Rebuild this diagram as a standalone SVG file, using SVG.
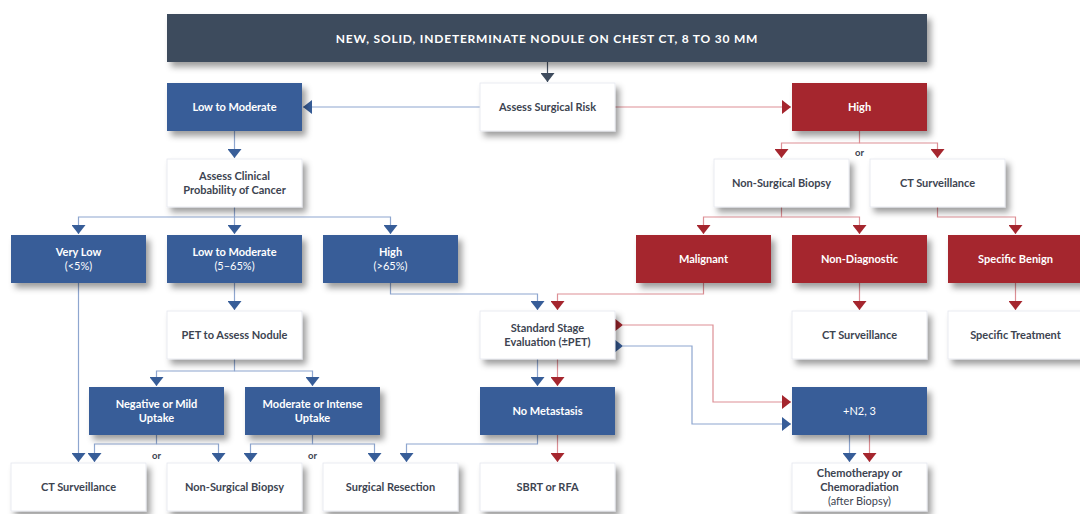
<svg xmlns="http://www.w3.org/2000/svg" width="1080" height="514" viewBox="0 0 1080 514">
<defs>
<filter id="sh" x="-10%" y="-15%" width="130%" height="150%">
<feDropShadow dx="4" dy="5" stdDeviation="3" flood-color="#000" flood-opacity="0.38"/>
</filter>
<marker id="mb" viewBox="0 0 9 14" refX="9" refY="7" markerWidth="9" markerHeight="14" markerUnits="userSpaceOnUse" orient="auto"><path d="M0,0 L9,7 L0,14 z" fill="#375d98"/></marker>
<marker id="mr" viewBox="0 0 9 14" refX="9" refY="7" markerWidth="9" markerHeight="14" markerUnits="userSpaceOnUse" orient="auto"><path d="M0,0 L9,7 L0,14 z" fill="#a5262e"/></marker>
<marker id="md" viewBox="0 0 9 14" refX="9" refY="7" markerWidth="9" markerHeight="14" markerUnits="userSpaceOnUse" orient="auto"><path d="M0,0 L9,7 L0,14 z" fill="#3e4b5d"/></marker>
</defs>
<style>
.bw{fill:#fff;stroke:#e4e7ee;stroke-width:0.8;filter:url(#sh)}
.bb{fill:#375d98;filter:url(#sh)}
.br{fill:#a5262e;filter:url(#sh)}
.bd{fill:#3e4b5d;filter:url(#sh)}
text{font-family:Lato,"Noto Sans","Liberation Sans",sans-serif;font-size:11px;font-weight:700;text-anchor:middle;fill:#3d4451}
.tw{fill:#fff}
.lt{font-weight:400}
.hdr{font-size:12px;letter-spacing:0.8px;fill:#fff}
.or{font-size:9.5px;font-weight:700}
.lb{stroke:#8ea6cf;stroke-width:1.2;fill:none}
.lr{stroke:#dd8f95;stroke-width:1.2;fill:none}
.ld{stroke:#4a5668;stroke-width:1.2;fill:none}
.ab{marker-end:url(#mb)}
.ar{marker-end:url(#mr)}
</style>
<rect width="1080" height="514" fill="#fff"/>

<g id="connectors">
<path class="ld" d="M547.5,62 V82" marker-end="url(#md)"/>
<path class="lb ab" d="M480,107 H303"/>
<path class="lr ar" d="M615,107 H791"/>
<path class="lb ab" d="M234.5,131 V158"/>
<path class="lr ar" d="M859.5,131 V143 H781.5 V158"/>
<path class="lr ar" d="M859.5,143 H937.5 V158"/>
<path class="lb ab" d="M234.5,207 V234"/>
<path class="lb ab" d="M234.5,217 H78.5 V234"/>
<path class="lb ab" d="M234.5,217 H390.5 V234"/>
<path class="lr ar" d="M781.5,207 V217 H703.5 V234"/>
<path class="lr ar" d="M781.5,217 H859.5 V234"/>
<path class="lr ar" d="M937.5,207 V217 H1015.5 V234"/>
<path class="lb ab" d="M234.5,283 V310"/>
<path class="lb ab" d="M78.5,283 V462"/>
<path class="lb ab" d="M390.5,283 V294 H537.5 V310"/>
<path class="lr ar" d="M703.5,283 V294 H557.5 V310"/>
<path class="lr ar" d="M859.5,283 V310"/>
<path class="lr ar" d="M1015.5,283 V310"/>
<path class="lb ab" d="M234.5,359 V371 H156.5 V386"/>
<path class="lb ab" d="M234.5,371 H312.5 V386"/>
<path class="lb ab" d="M537.5,359 V386"/>
<path class="lr ar" d="M557.5,359 V386"/>
<path class="lr ar" d="M623,325 H713 V402 H791" marker-start="url(#mr)"/>
<path class="lb ab" d="M623,346 H692 V424 H791" marker-start="url(#mb)"/>
<path class="lb ab" d="M156.5,435 V444 H94.5 V462"/>
<path class="lb ab" d="M156.5,444 H218.5 V462"/>
<path class="lb ab" d="M312.5,435 V444 H250.5 V462"/>
<path class="lb ab" d="M312.5,444 H374.5 V462"/>
<path class="lb ab" d="M537.5,435 V444 H406.5 V462"/>
<path class="lr ar" d="M557.5,435 V462"/>
<path class="lb ab" d="M849.5,435 V462"/>
<path class="lr ar" d="M869.5,435 V462"/>
<text class="or" x="859.5" y="156">or</text>
<text class="or" x="156.5" y="459">or</text>
<text class="or" x="312.5" y="459">or</text>
</g>

<g id="n-top"><rect class="bd" x="167" y="14" width="760" height="48"/><text class="hdr" x="547" y="42.5">NEW, SOLID, INDETERMINATE NODULE ON CHEST CT, 8 TO 30 MM</text></g>

<g id="n-lowmod"><rect class="bb" x="167" y="83" width="135" height="48"/><text class="tw" x="234.5" y="111">Low to Moderate</text></g>
<g id="n-asr"><rect class="bw" x="480" y="83" width="135" height="48"/><text x="547.5" y="111">Assess Surgical Risk</text></g>
<g id="n-high"><rect class="br" x="792" y="83" width="135" height="48"/><text class="tw" x="859.5" y="111">High</text></g>

<g id="n-clin"><rect class="bw" x="167" y="159" width="135" height="48"/><text x="234.5" y="180">Assess Clinical</text><text x="234.5" y="194">Probability of Cancer</text></g>
<g id="n-nsb1"><rect class="bw" x="714" y="159" width="135" height="48"/><text x="781.5" y="187">Non-Surgical Biopsy</text></g>
<g id="n-cts1"><rect class="bw" x="870" y="159" width="135" height="48"/><text x="937.5" y="187">CT Surveillance</text></g>

<g id="n-verylow"><rect class="bb" x="11" y="235" width="135" height="48"/><text class="tw" x="78.5" y="256">Very Low</text><text class="tw lt" x="78.5" y="270">(&lt;5%)</text></g>
<g id="n-lowmod2"><rect class="bb" x="167" y="235" width="135" height="48"/><text class="tw" x="234.5" y="256">Low to Moderate</text><text class="tw lt" x="234.5" y="270">(5–65%)</text></g>
<g id="n-highp"><rect class="bb" x="323" y="235" width="135" height="48"/><text class="tw" x="390.5" y="256">High</text><text class="tw lt" x="390.5" y="270">(&gt;65%)</text></g>
<g id="n-malig"><rect class="br" x="636" y="235" width="135" height="48"/><text class="tw" x="703.5" y="263">Malignant</text></g>
<g id="n-nondiag"><rect class="br" x="792" y="235" width="135" height="48"/><text class="tw" x="859.5" y="263">Non-Diagnostic</text></g>
<g id="n-specben"><rect class="br" x="948" y="235" width="135" height="48"/><text class="tw" x="1015.5" y="263">Specific Benign</text></g>

<g id="n-pet"><rect class="bw" x="167" y="311" width="135" height="48"/><text x="234.5" y="339">PET to Assess Nodule</text></g>
<g id="n-sse"><rect class="bw" x="480" y="311" width="135" height="48"/><text x="547.5" y="332">Standard Stage</text><text x="547.5" y="346">Evaluation (±PET)</text></g>
<g id="n-cts2"><rect class="bw" x="792" y="311" width="135" height="48"/><text x="859.5" y="339">CT Surveillance</text></g>
<g id="n-spectreat"><rect class="bw" x="948" y="311" width="135" height="48"/><text x="1015.5" y="339">Specific Treatment</text></g>

<g id="n-negmild"><rect class="bb" x="89" y="387" width="135" height="48"/><text class="tw" x="156.5" y="408">Negative or Mild</text><text class="tw" x="156.5" y="422">Uptake</text></g>
<g id="n-modint"><rect class="bb" x="245" y="387" width="135" height="48"/><text class="tw" x="312.5" y="408">Moderate or Intense</text><text class="tw" x="312.5" y="422">Uptake</text></g>
<g id="n-nomet"><rect class="bb" x="480" y="387" width="135" height="48"/><text class="tw" x="547.5" y="415">No Metastasis</text></g>
<g id="n-n23"><rect class="bb" x="792" y="387" width="135" height="48"/><text class="tw lt" x="859.5" y="415">+N2, 3</text></g>

<g id="n-cts3"><rect class="bw" x="11" y="463" width="135" height="48"/><text x="78.5" y="491">CT Surveillance</text></g>
<g id="n-nsb2"><rect class="bw" x="167" y="463" width="135" height="48"/><text x="234.5" y="491">Non-Surgical Biopsy</text></g>
<g id="n-surgres"><rect class="bw" x="323" y="463" width="135" height="48"/><text x="390.5" y="491">Surgical Resection</text></g>
<g id="n-sbrt"><rect class="bw" x="480" y="463" width="135" height="48"/><text x="547.5" y="491">SBRT or RFA</text></g>
<g id="n-chemo"><rect class="bw" x="792" y="463" width="135" height="48"/><text x="859.5" y="477">Chemotherapy or</text><text x="859.5" y="491">Chemoradiation</text><text class="lt" x="859.5" y="505">(after Biopsy)</text></g>
</svg>
